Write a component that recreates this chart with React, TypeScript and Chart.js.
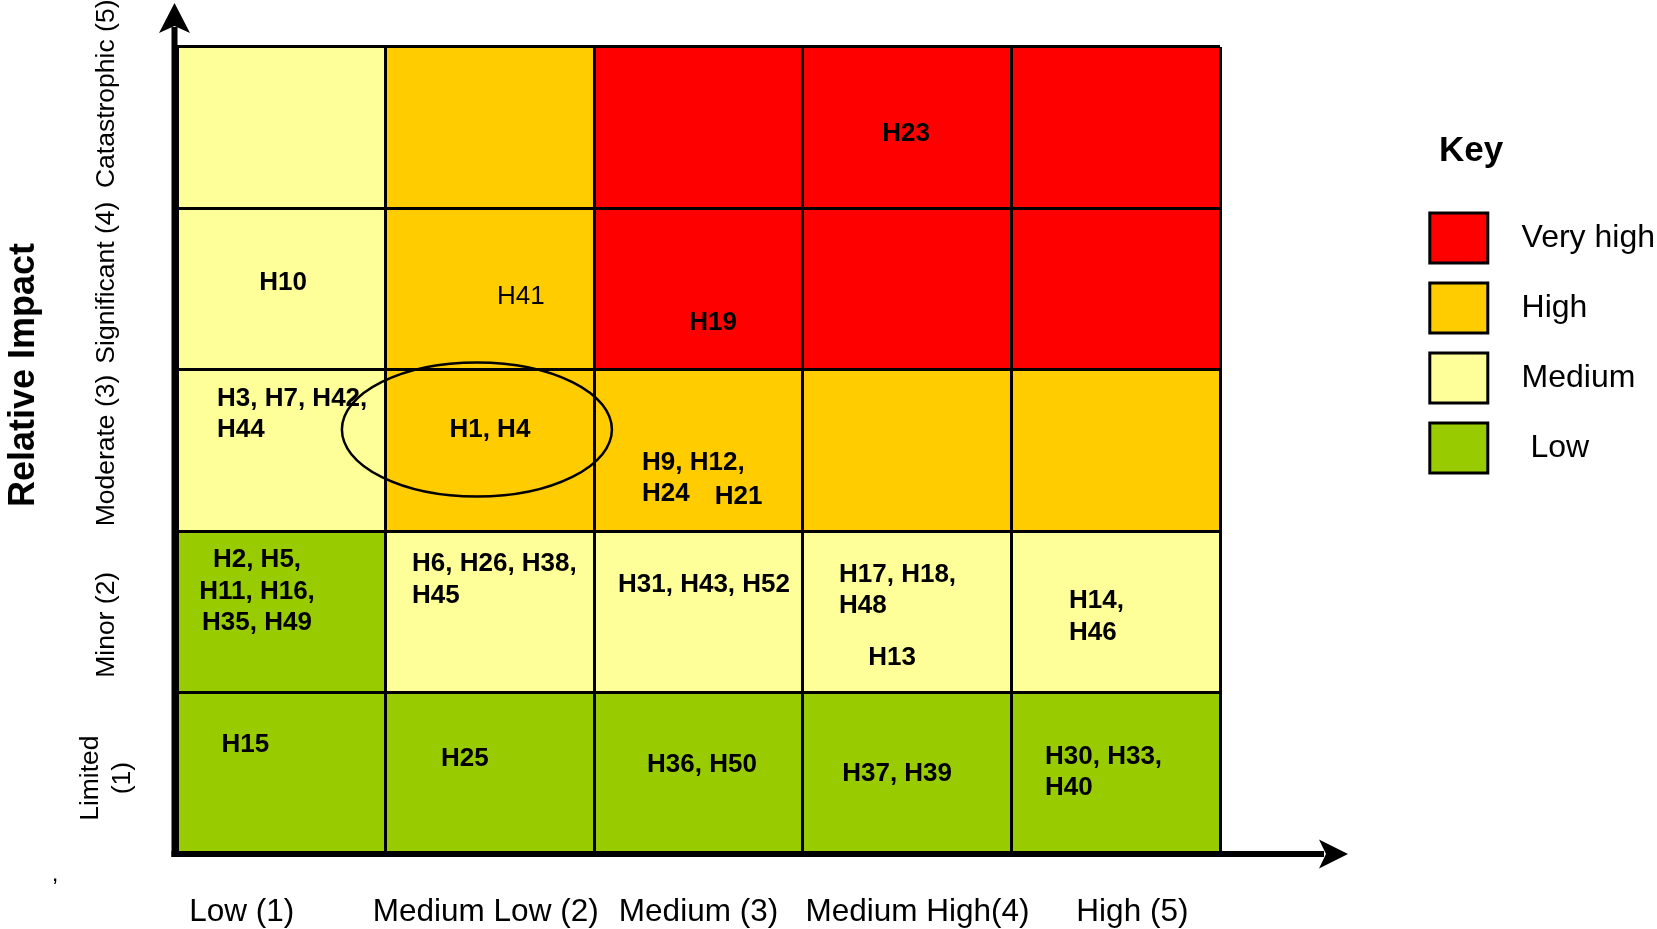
import React, { useEffect, useRef } from 'react';
import { Chart, registerables } from 'chart.js';

Chart.register(...registerables);

const FONT = '"Liberation Sans", Arial, Helvetica, sans-serif';

// ---------------- data ----------------
const likelihoodLabels = ['Low (1)', 'Medium Low (2)', 'Medium (3)', 'Medium High(4)', 'High (5)'];
const likelihoodLabelAnchors = [-0.19, 0.98, 2.0, 3.05, 4.08];
const impactLabels: (string | string[])[] = [['Limited', '(1)'], 'Minor (2)', 'Moderate (3)', 'Significant (4)', 'Catastrophic (5)'];
const impactLabelAnchors = [0.47, 1.42, 2.5, 3.54, 4.71];
const impactRowNames = ['Limited', 'Minor', 'Moderate', 'Significant', 'Catastrophic'];
const impactRowCentres = [0.5, 1.5, 2.5, 3.5, 4.5];
const cellUnits = [1, 1, 1, 1, 1];

const riskLevels = ['Very high', 'High', 'Medium', 'Low'];
const riskColors = ['#FF0000', '#FFCC00', '#FFFF99', '#99CC00'];

// risk rating of each cell, per impact row (bottom to top), per likelihood column
const ratingLimited = ['Low', 'Low', 'Low', 'Low', 'Low'];
const ratingMinor = ['Low', 'Medium', 'Medium', 'Medium', 'Medium'];
const ratingModerate = ['Medium', 'High', 'High', 'High', 'High'];
const ratingSignificant = ['Medium', 'High', 'Very high', 'Very high', 'Very high'];
const ratingCatastrophic = ['Medium', 'High', 'Very high', 'Very high', 'Very high'];

// hazards written in each cell
const hazardsLimited = [['H15'], ['H25'], ['H36, H50'], ['H37, H39'], ['H30, H33,\nH40']];
const hazardsMinor = [['H2, H5,\nH11, H16,\nH35, H49'], ['H6, H26, H38,\nH45'], ['H31, H43, H52'], ['H17, H18,\nH48', 'H13'], ['H14,\nH46']];
const hazardsModerate = [['H3, H7, H42,\nH44'], ['H1, H4'], ['H9, H12,\nH24', 'H21'], [], []];
const hazardsSignificant = [['H10'], ['H41'], ['H19'], [], []];
const hazardsCatastrophic = [[], [], [], ['H23'], []];

const ratingRows = [ratingLimited, ratingMinor, ratingModerate, ratingSignificant, ratingCatastrophic];
const hazardRows: string[][][] = [hazardsLimited, hazardsMinor, hazardsModerate, hazardsSignificant, hazardsCatastrophic];

// ---------------- layout (placement of texts inside cells) ----------------
type Place = { dx: number; dy: number; align: CanvasTextAlign; weight?: string };
const labelPlacement: Record<string, Place> = {
  'H15': { dx: -36, dy: -31, align: 'center' },
  'H25': { dx: -25, dy: -17, align: 'center' },
  'H36, H50': { dx: 3.5, dy: -11, align: 'center' },
  'H37, H39': { dx: -10, dy: -1.5, align: 'center' },
  'H30, H33,\nH40': { dx: -70.7, dy: -3.6, align: 'left' },
  'H2, H5,\nH11, H16,\nH35, H49': { dx: -24.3, dy: -23, align: 'center' },
  'H6, H26, H38,\nH45': { dx: -77.9, dy: -34.4, align: 'left' },
  'H31, H43, H52': { dx: 5.5, dy: -29.4, align: 'center' },
  'H17, H18,\nH48': { dx: -68.1, dy: -24.2, align: 'left' },
  'H13': { dx: -15, dy: 43, align: 'center' },
  'H14,\nH46': { dx: -46.7, dy: 2.6, align: 'left' },
  'H3, H7, H42,\nH44': { dx: -64.3, dy: -38.5, align: 'left' },
  'H1, H4': { dx: 0, dy: -23, align: 'center' },
  'H9, H12,\nH24': { dx: -56.5, dy: 25.5, align: 'left' },
  'H21': { dx: 40, dy: 44, align: 'center' },
  'H10': { dx: 1.7, dy: -9, align: 'center' },
  'H41': { dx: 31, dy: 5, align: 'center', weight: 'normal' },
  'H19': { dx: 14.5, dy: 31, align: 'center' },
  'H23': { dx: -1, dy: 4, align: 'center' },
};

const PLOT_LEFT = 177;
const PLOT_RIGHT = 1220;
const PLOT_TOP = 47;
const PLOT_BOTTOM = 854;
const PAD_RIGHT = -8;
const Y_LABEL_CENTER_X = 114.5;
const Y_TICK_FONT = 26.5;
const TEXT_SHIFT = 2.5;

function textWidth(text: string, font: string) {
  const c = document.createElement('canvas').getContext('2d') as CanvasRenderingContext2D;
  c.font = font;
  return c.measureText(text).width;
}

const overlayPlugin = {
  id: 'riskOverlay',
  afterDraw(chart: any) {
    const { ctx, chartArea, scales } = chart;
    const xs = scales.x;
    const ys = scales.y;
    ctx.save();

    // hazard texts in cells
    ctx.fillStyle = '#000';
    ctx.textBaseline = 'middle';
    hazardRows.forEach((row, r) => {
      row.forEach((groups, c) => {
        groups.forEach((text) => {
          const p = labelPlacement[text] || { dx: 0, dy: 0, align: 'center' as CanvasTextAlign };
          const cx = xs.getPixelForValue(c) + p.dx;
          const cy = ys.getPixelForValue(impactRowCentres[r]) + p.dy + TEXT_SHIFT;
          const lines = text.split('\n');
          ctx.font = `${p.weight || 'bold'} 26px ${FONT}`;
          ctx.textAlign = p.align;
          lines.forEach((ln, i) => {
            ctx.fillText(ln, cx, cy + (i - (lines.length - 1) / 2) * 31.5);
          });
        });
      });
    });

    // ellipse around H1, H4
    ctx.beginPath();
    ctx.lineWidth = 2.5;
    ctx.strokeStyle = '#000';
    ctx.ellipse(xs.getPixelForValue(1) - 13, ys.getPixelForValue(2.5) - 21, 135, 67, 0, 0, Math.PI * 2);
    ctx.stroke();

    // axes with arrow heads
    const ax = chartArea.left - 2.5;
    const ay = chartArea.bottom;
    const topTip = 3;
    const rightTip = chartArea.right + 128;
    ctx.fillStyle = '#000';
    ctx.fillRect(ax - 3, topTip + 24, 6, ay + 3 - (topTip + 24));
    ctx.fillRect(ax - 3, ay - 3, rightTip - 24 - (ax - 3), 6);
    ctx.beginPath();
    ctx.moveTo(ax, topTip);
    ctx.lineTo(ax + 15.5, topTip + 30);
    ctx.lineTo(ax, topTip + 23);
    ctx.lineTo(ax - 15.5, topTip + 30);
    ctx.closePath();
    ctx.fill();
    ctx.beginPath();
    ctx.moveTo(rightTip, ay);
    ctx.lineTo(rightTip - 29, ay - 14.5);
    ctx.lineTo(rightTip - 22, ay);
    ctx.lineTo(rightTip - 29, ay + 14.5);
    ctx.closePath();
    ctx.fill();

    // y axis title
    ctx.save();
    ctx.translate(24, 375);
    ctx.rotate(-Math.PI / 2);
    ctx.font = `bold 36px ${FONT}`;
    ctx.textAlign = 'center';
    ctx.textBaseline = 'middle';
    ctx.fillText('Relative Impact', 0, 0);
    ctx.restore();

    // stray comma in the original figure
    ctx.font = `24px ${FONT}`;
    ctx.textAlign = 'center';
    ctx.textBaseline = 'alphabetic';
    ctx.fillText(',', 55, 881);

    ctx.restore();
  },
};

export default function App() {
  const canvasRef = useRef<HTMLCanvasElement | null>(null);

  useEffect(() => {
    const canvas = canvasRef.current;
    if (!canvas) return;

    const tickFontString = `${Y_TICK_FONT}px ${FONT}`;
    let widest = 0;
    impactLabels.forEach((l) => {
      (Array.isArray(l) ? l : [l]).forEach((s) => {
        widest = Math.max(widest, textWidth(s, tickFontString));
      });
    });
    const yPad = PLOT_LEFT - Y_LABEL_CENTER_X - widest / 2;

    const datasets = ratingRows.map((row, i) => ({
      label: impactRowNames[i],
      data: cellUnits.slice(),
      backgroundColor: row.map((r) => riskColors[riskLevels.indexOf(r)]),
      borderWidth: 0,
      barPercentage: 1,
      categoryPercentage: 1,
      stack: 'impact',
    }));

    const chart = new Chart(canvas, {
      type: 'bar',
      data: { labels: likelihoodLabels, datasets },
      plugins: [overlayPlugin],
      options: {
        responsive: false,
        maintainAspectRatio: false,
        animation: false,
        devicePixelRatio: 1,
        events: [],
        layout: { padding: { top: PLOT_TOP, left: 0, right: PAD_RIGHT, bottom: 0 } },
        scales: {
          x: {
            type: 'category',
            stacked: true,
            offset: true,
            grid: { display: true, offset: true, color: '#000', lineWidth: 3, drawTicks: false, z: 1 },
            border: { display: false },
            ticks: { display: false },
            afterFit: (s: any) => { s.height = 0; },
          },
          xLikelihood: {
            type: 'linear',
            position: 'bottom',
            min: -0.5,
            max: 4.5,
            offset: false,
            afterBuildTicks: (s: any) => { s.ticks = likelihoodLabelAnchors.map((v) => ({ value: v })); },
            grid: { display: false, offset: false },
            border: { display: false },
            ticks: {
              color: '#000',
              font: { family: FONT, size: 31.5 },
              padding: 31.7,
              autoSkip: false,
              minRotation: 0,
              maxRotation: 0,
              callback: (_v: any, i: number) => likelihoodLabels[i],
            },
            afterFit: (s: any) => { s.height = s.chart.height - PLOT_BOTTOM; },
          },
          y: {
            type: 'linear',
            stacked: true,
            min: 0,
            max: 5,
            afterBuildTicks: (s: any) => { s.ticks = impactRowCentres.map((v) => ({ value: v })); },
            grid: { display: true, offset: true, color: '#000', lineWidth: 3, drawTicks: false, z: 1 },
            border: { display: false },
            ticks: { display: false },
            afterFit: (s: any) => { s.width = 0; },
          },
          yImpact: {
            type: 'linear',
            position: 'left',
            min: 0,
            max: 5,
            offset: false,
            afterBuildTicks: (s: any) => { s.ticks = impactLabelAnchors.map((v) => ({ value: v })); },
            grid: { display: false },
            border: { display: false },
            ticks: {
              color: '#000',
              font: { family: FONT, size: Y_TICK_FONT },
              autoSkip: false,
              minRotation: 90,
              maxRotation: 90,
              crossAlign: 'center',
              padding: yPad,
              callback: (_v: any, i: number) => impactLabels[i],
            },
            afterFit: (s: any) => { s.width = PLOT_LEFT; },
          },
          keySpace: {
            type: 'linear',
            position: 'right',
            display: true,
            grid: { display: false },
            border: { display: false },
            ticks: { display: false },
            afterFit: (s: any) => {
              const lw = s.chart.legend ? s.chart.legend.width : 0;
              s.width = Math.max(0, s.chart.width - PAD_RIGHT - lw - PLOT_RIGHT);
            },
          },
        },
        plugins: {
          tooltip: { enabled: false },
          legend: {
            display: true,
            position: 'right',
            align: 'start',
            maxWidth: 340,
            title: {
              display: true,
              text: '   Key',
              position: 'start',
              color: '#000',
              font: { family: FONT, size: 35, weight: 'bold' },
              padding: { top: 86.5, bottom: 17.5 },
            },
            labels: {
              boxWidth: 58,
              boxHeight: 50,
              padding: 20,
              color: '#000',
              font: { family: FONT, size: 32 },
              generateLabels: () =>
                riskLevels.map((name, i) => ({
                  text: (name === 'Low' ? '   ' : '  ') + name,
                  fillStyle: riskColors[i],
                  strokeStyle: '#000',
                  lineWidth: 3,
                  hidden: false,
                  fontColor: '#000',
                })),
            },
          },
        },
      } as any,
    });

    return () => chart.destroy();
  }, []);

  return (
    <div style={{ position: 'absolute', left: 0, top: 0, width: 1657, height: 929, background: '#fff' }}>
      <canvas ref={canvasRef} width={1657} height={929} style={{ display: 'block' }} />
    </div>
  );
}
